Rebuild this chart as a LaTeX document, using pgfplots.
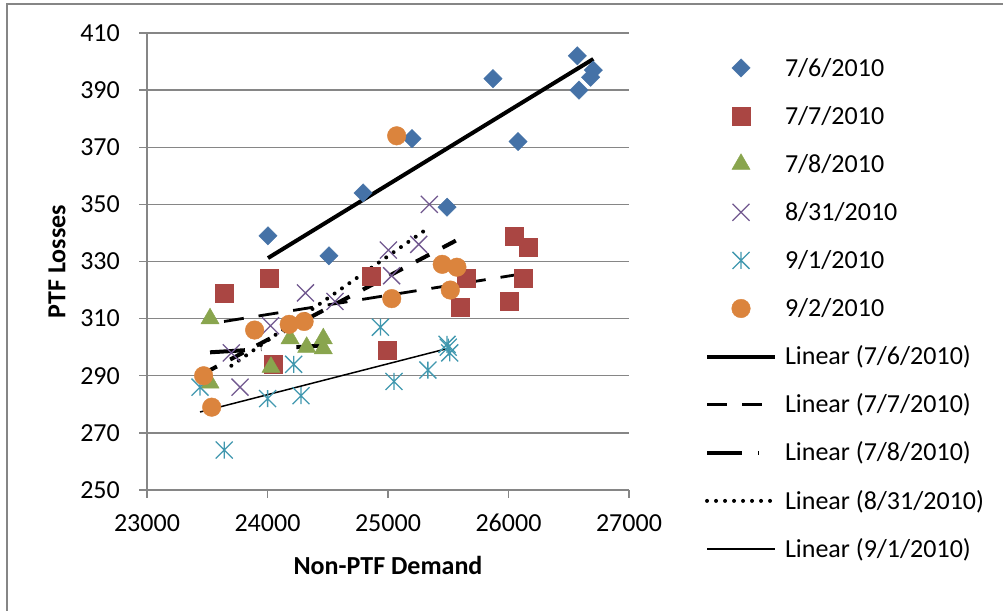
\documentclass[border=0pt]{standalone}
\usepackage{fontspec}
\setmainfont{Carlito}
\usepackage{pgfplots}
\pgfplotsset{compat=1.18}
\definecolor{cA}{HTML}{4572A7}
\definecolor{cB}{HTML}{AA4643}
\definecolor{cC}{HTML}{89A54E}
\definecolor{cD}{HTML}{71588F}
\definecolor{cE}{HTML}{4198AF}
\definecolor{cF}{HTML}{DB843D}
\definecolor{gridgray}{HTML}{868686}
\pgfdeclareplotmark{xstar}{%
  \pgfpathmoveto{\pgfqpoint{-\pgfplotmarksize}{-\pgfplotmarksize}}%
  \pgfpathlineto{\pgfqpoint{\pgfplotmarksize}{\pgfplotmarksize}}%
  \pgfpathmoveto{\pgfqpoint{-\pgfplotmarksize}{\pgfplotmarksize}}%
  \pgfpathlineto{\pgfqpoint{\pgfplotmarksize}{-\pgfplotmarksize}}%
  \pgfpathmoveto{\pgfqpoint{0pt}{-\pgfplotmarksize}}%
  \pgfpathlineto{\pgfqpoint{0pt}{\pgfplotmarksize}}%
  \pgfusepathqstroke}
\pgfdeclareplotmark{bigx}{%
  \pgfpathmoveto{\pgfqpoint{-\pgfplotmarksize}{-\pgfplotmarksize}}%
  \pgfpathlineto{\pgfqpoint{\pgfplotmarksize}{\pgfplotmarksize}}%
  \pgfpathmoveto{\pgfqpoint{-\pgfplotmarksize}{\pgfplotmarksize}}%
  \pgfpathlineto{\pgfqpoint{\pgfplotmarksize}{-\pgfplotmarksize}}%
  \pgfusepathqstroke}
\pgfplotsset{
  markleg/.style={legend image code/.code={\draw[##1] plot coordinates {(34bp,0bp)};}},
  lineleg/.style={legend image code/.code={\draw[##1] (0bp,0bp) -- (68bp,0bp);}},
}
\begin{document}
\begin{tikzpicture}[x=1bp,y=1bp]
\path[use as bounding box] (0,0) rectangle (1003,611);
\draw[gridgray, line width=1.5bp] (7,0) -- (7,607) -- (1003,607);
\begin{axis}[
  at={(147bp,121bp)}, anchor=south west,
  scale only axis, width=482bp, height=457bp,
  xmin=23000, xmax=27000, ymin=250, ymax=410,
  xtick={23000,24000,25000,26000,27000},
  ytick={250,270,290,310,330,350,370,390,410},
  scaled x ticks=false, scaled y ticks=false,
  xticklabel={\pgfmathprintnumber[fixed,precision=0,1000 sep={}]{\tick}},
  axis lines*=left,
  axis line style={gridgray, line width=1.3bp},
  tick style={gridgray, line width=1.3bp},
  tick align=outside, major tick length=8bp,
  ymajorgrids, grid style={gridgray, line width=1.3bp},
  /pgf/number format/assume math mode=true,
  /pgf/number format/1000 sep={},
  tick label style={font=\fontsize{26bp}{30bp}\selectfont},
  yticklabel style={inner sep=0pt, xshift=-19bp},
  xticklabel style={inner sep=0pt, yshift=-16bp},
  every axis x label/.style={at={(axis description cs:0.5,-0.1641)}, anchor=center, inner sep=0pt,
    font=\bfseries\fontsize{26bp}{30bp}\selectfont},
  every axis y label/.style={at={(axis description cs:-0.1867,0.5)}, rotate=90, anchor=center, inner sep=0pt,
    font=\bfseries\fontsize{26bp}{30bp}\selectfont},
  xlabel={Non-PTF Demand},
  ylabel={PTF Losses},
  legend cell align=left,
  legend style={at={(1.1577,0.9477)}, anchor=north west, draw=none, fill=none,
    inner sep=0pt, outer sep=0pt, row sep=25.9bp, column sep=8bp,
    font=\fontsize{26bp}{30bp}\selectfont,
    nodes={inner sep=0pt, text height=19.2bp, text depth=3bp}},
]
\addplot[only marks, markleg, mark=square*, mark size=6.5bp, mark options={rotate=45, fill=cA, draw=cA}] coordinates {
(24004,339) (24510,332) (24793,354) (25199,373) (25490,349) (25871,394)
(26079,372) (26571,402) (26585,390) (26704,397) (26682,394.5)};
\addlegendentry{7/6/2010}
\addplot[only marks, markleg, mark=square*, mark size=9bp, mark options={fill=cB, draw=cB}] coordinates {
(23639,319) (24015,324) (24048,294) (24862,325) (24995,299) (26046,339)
(26162,335) (25647,324) (25598,314) (26120,324) (26004,316)};
\addlegendentry{7/7/2010}
\addplot[only marks, markleg, mark=triangle*, mark size=10.5bp, mark options={fill=cC, draw=cC}] coordinates {
(23523,310) (23523,287.5) (24029,293) (24187,303) (24325,300) (24463,303) (24463,299.5)};
\addlegendentry{7/8/2010}
\addplot[only marks, markleg, mark=bigx, mark size=8.5bp, mark options={draw=cD, line width=1.3bp}] coordinates {
(23700,298) (23772,286) (24025,307.5) (24315,319) (24560,316) (25003,334)
(25030,325) (25255,336) (25343,350)};
\addlegendentry{8/31/2010}
\addplot[only marks, markleg, mark=xstar, mark size=8.5bp, mark options={draw=cE, line width=1.3bp}] coordinates {
(23440,286) (23641,264) (24001,282) (24217,294) (24278,283) (24937,307)
(25050,288) (25331,292) (25500,300) (25512,298) (25490,301)};
\addlegendentry{9/1/2010}
\addplot[only marks, markleg, mark=*, mark size=9.3bp, mark options={fill=cF, draw=cF}] coordinates {
(23470,290) (23537,279) (23893,306) (24180,308) (24304,309) (25031,317)
(25072,374) (25450,329) (25572,328) (25517,320)};
\addlegendentry{9/2/2010}
\addplot[black, lineleg, line width=4bp] coordinates {(24004,331.2) (26704,400.9)};
\addlegendentry{Linear (7/6/2010)}
\addplot[black, lineleg, line width=2.8bp, dash pattern=on 20bp off 15bp] coordinates {(23639,309) (26162,326)};
\addlegendentry{Linear (7/7/2010)}
\addplot[black, lineleg, line width=4bp, dash pattern=on 35bp off 16bp on 0.5bp off 35bp] coordinates {(23523,298.2) (24463,300.6)};
\addlegendentry{Linear (7/8/2010)}
\addplot[black, lineleg, line width=4bp, line cap=round, dash pattern=on 0bp off 9bp] coordinates {(23700,293.5) (25343,342)};
\addlegendentry{Linear (8/31/2010)}
\addplot[black, lineleg, line width=1.5bp] coordinates {(23440,277.3) (25500,299.6)};
\addlegendentry{Linear (9/1/2010)}
\addplot[black, line width=4bp, dash pattern=on 15bp off 15bp, forget plot] coordinates {(23470,290.8) (25572,337.5)};
\end{axis}
\end{tikzpicture}
\end{document}
